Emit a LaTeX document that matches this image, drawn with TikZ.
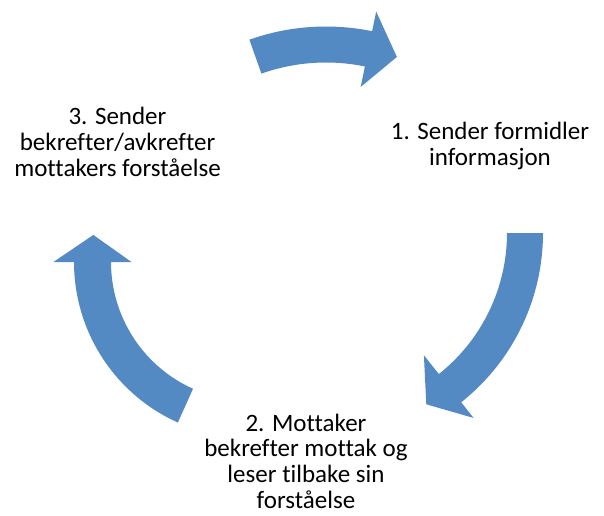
\documentclass[tikz,border=0pt]{standalone}
\usepackage{fontspec}
\setmainfont{Carlito}[Ligatures=NoCommon]
\usepackage{tikz}

\definecolor{cycleblue}{RGB}{83,138,196}

\tikzset{
  cyclearrow/.style={fill=cycleblue},
  steptext/.style={align=center, anchor=base, inner sep=0pt,
    font=\fontsize{18.75pt}{19.35pt}\selectfont}
}

\begin{document}
\begin{tikzpicture}[x=0.75pt, y=-0.75pt]

            \useasboundingbox (0,0) rectangle (604,515);

            % top arrow, 3 -> 1
            \fill[cyclearrow, shift={(326,256)}] (-109.5:193.5)
            -- (-109.5:229.5) arc[start angle=-109.5, end angle=-78.4, radius=229.5]
            -- (-78.4:249.6) -- (-70.4:211.3) -- (-78.4:172.6)
            -- (-78.4:193.5) arc[start angle=-78.4, end angle=-109.5, radius=193.5]
            -- cycle;

            % right arrow, 1 -> 2
            \fill[cyclearrow, shift={(327,233)}] (0:180)
            -- (0:216) arc[start angle=0, end angle=51.6, radius=216]
            -- (51.6:236) -- (59.9:198) -- (51.6:156)
            -- (51.6:180) arc[start angle=51.6, end angle=0, radius=180]
            -- cycle;

            % left arrow, 2 -> 3
            \fill[cyclearrow, shift={(250,262)}] (114.2:139)
            -- (114.2:176) arc[start angle=114.2, end angle=180, radius=176]
            -- (180:196.5) -- (189.8:159) -- (180:118.5)
            -- (180:139) arc[start angle=180, end angle=114.2, radius=139]
            -- cycle;

            % base anchor sits on the last line
            \node[steptext] (sender) at (490, 165)
            {1. Sender formidler\\informasjon};

            \node[steptext] (mottaker) at (306, 508.5)
            {2. Mottaker\\bekrefter mottak og\\leser tilbake sin\\forståelse};

            \node[steptext] (bekreft) at (117.5, 176)
            {3. Sender\\bekrefter/avkrefter\\mottakers forståelse};
        \end{tikzpicture}
\end{document}
